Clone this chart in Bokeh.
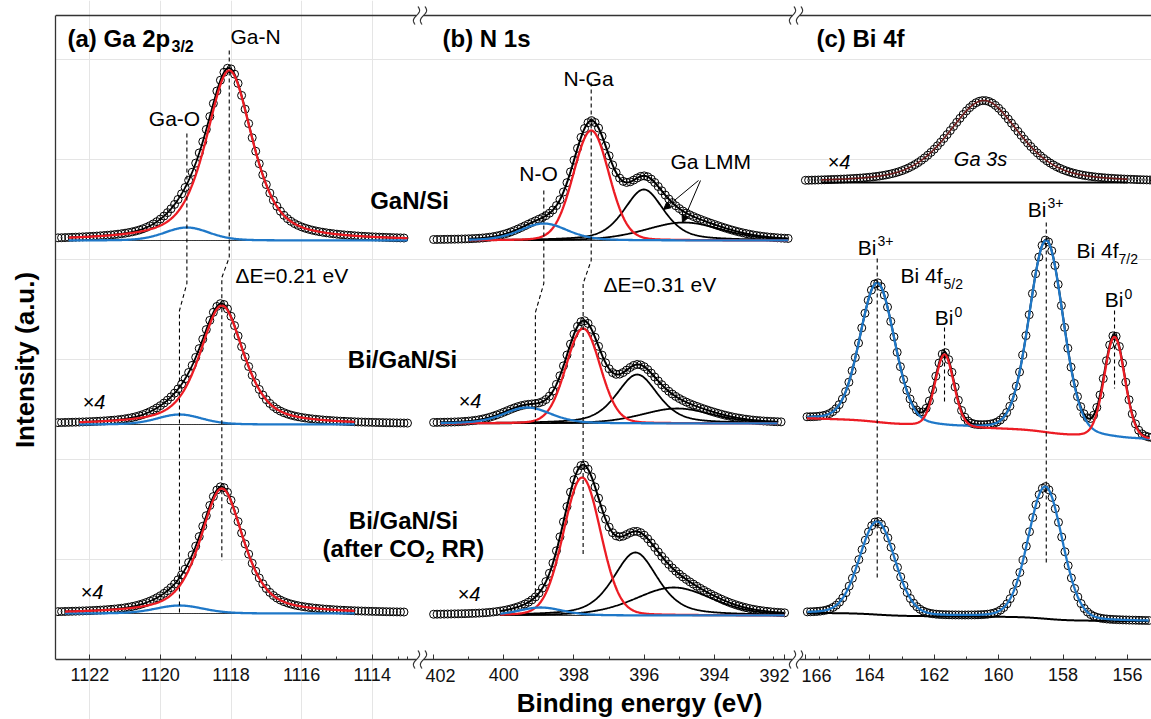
import math
import numpy as np
from bokeh.plotting import figure
from bokeh.models import Range1d, LinearAxis, FixedTicker, Label, Arrow, NormalHead
from bokeh.embed import file_html
from bokeh.resources import INLINE

# ===================== DATA =====================
# intensity in a.u.; each stacked spectrum has its own baseline offset
# (a) Ga 2p3/2 -- [GaN/Si, Bi/GaN/Si, Bi/GaN/Si after CO2RR]
ga_offset   = [419, 235, 46]
ga_GaN_pos  = [1118.05, 1118.26, 1118.26]
ga_GaN_amp  = [170, 119, 125]
ga_GaN_fwhm = [1.56, 1.48, 1.45]
ga_GaO_pos  = [1119.25, 1119.46, 1119.46]
ga_GaO_amp  = [13, 10, 8]
ga_GaO_fwhm = [1.50, 1.50, 1.60]
ga_shape    = [0.60, 0.20]                 # Lorentzian fraction: Ga-N, Ga-O
ga_scan     = [[1122.9, 1113.1], [1122.9, 1113.0], [1122.9, 1113.1]]
ga_fitwin   = [[1122.6, 1113.0], [1122.3, 1114.5], [1122.7, 1114.5]]

# (b) N 1s
n_offset    = [419, 236, 44]
n_NGa_pos   = [397.51, 397.74, 397.77]
n_NGa_amp   = [110, 95, 138]
n_NGa_fwhm  = [1.20, 1.15, 1.25]
n_NO_pos    = [398.86, 399.33, 398.95]
n_NO_amp    = [17, 16, 8]
n_NO_fwhm   = [1.60, 1.60, 1.50]
n_LMM1_pos  = [396.01, 396.20, 396.25]
n_LMM1_amp  = [51, 49, 63]
n_LMM1_fwhm = [1.35, 1.40, 1.50]
n_LMM2_pos  = [394.87, 395.06, 395.16]
n_LMM2_amp  = [18, 15, 28]
n_LMM2_fwhm = [2.60, 2.40, 2.60]
n_shape     = [0.10, 0.30, 0.50, 0.30]     # N-Ga, N-O, LMM1, LMM2
n_scan      = [[402.0, 391.9], [402.0, 392.1], [402.0, 392.0]]
n_fitwin    = [[401.0, 391.9], [401.8, 392.2], [400.1, 392.0]]
n_NO_guide  = [398.86, 399.10]

# (c) Ga 3s of GaN/Si (x4) and Bi 4f
ga3s_offset = 477
ga3s_pos, ga3s_amp, ga3s_fwhm, ga3s_shape = 160.46, 82, 2.64, 0.5
ga3s_scan   = [166.0, 155.2]
ga3s_fitwin = [165.5, 156.0]

bi_names    = ["Bi3+ 4f5/2", "Bi0 4f5/2", "Bi3+ 4f7/2", "Bi0 4f7/2"]
bi_pos      = [163.77, 161.68, 158.52, 156.40]
bi_amp      = [139, 72, 192, 101]
bi_fwhm     = [1.26, 0.69, 1.24, 0.75]
bi_shape    = 0.12
bi_bg       = [219.7, 1.0, 10.9]           # bg at low-BE end, linear slope, Shirley step
bi_scan     = [165.95, 155.25]
bi_fitwin   = [165.95, 155.30]

bia_pos     = [163.77, 158.55]
bia_amp     = [93, 132]
bia_fwhm    = [1.29, 1.25]
bia_bg      = [38.3, 0.25, 5.7]
bia_scan    = [165.94, 155.34]

ticks_a = [1122, 1120, 1118, 1116, 1114]
ticks_b = [402, 400, 398, 396, 394, 392]
ticks_c = [166, 164, 162, 160, 158, 156]

# ===================== helpers =====================
LN2 = math.log(2)
erf = np.vectorize(math.erf)


def pv(E, c, h, w, eta):
    x = (np.asarray(E, dtype=float) - c) / w
    return h * (eta / (1 + 4 * x * x) + (1 - eta) * np.exp(-4 * LN2 * x * x))


def pv_cdf(E, c, h, w, eta):
    E = np.asarray(E, dtype=float)
    aG = (1 - eta) * h * w * math.sqrt(math.pi / (4 * LN2))
    aL = eta * h * math.pi * w / 2
    cg = 0.5 * (1 + erf((E - c) * 2 * math.sqrt(LN2) / w))
    cl = 0.5 + np.arctan(2 * (E - c) / w) / math.pi
    return aG * cg + aL * cl, aG + aL


def shirley(E, peaks, base, slope, step, e_min):
    num = 0.0
    tot = 0.0
    for (c, h, w, eta) in peaks:
        n, t = pv_cdf(E, c, h, w, eta)
        num = num + n
        tot += t
    return base + slope * (np.asarray(E) - e_min) + step * num / tot


def scan(hi, lo, step):
    n = int(round((hi - lo) / step)) + 1
    return hi - step * np.arange(n)


RED, BLUE, DRED, AX = "#ec1c24", "#1f78c8", "#6d1a1a", "#333333"
FONT, FONTB = "Liberation Sans", "Liberation Sans"

# ===================== figure =====================
FL, FR = 55, 1151
WF = FR - FL
p = figure(width=1151, height=719, output_backend="svg", toolbar_location=None,
           x_range=Range1d(1122.972, 1122.972 - WF / 35.3), y_range=Range1d(-60, 659),
           x_axis_location=None, y_axis_location=None,
           min_border_left=FL, min_border_right=0, min_border_top=0, min_border_bottom=0,
           outline_line_color=None, background_fill_color="white", border_fill_color="white")
p.extra_x_ranges = {"b": Range1d(412.772, 412.772 - WF / 35.1),
                    "c": Range1d(189.289, 189.289 - WF / 32.2),
                    "px": Range1d(FL, FR)}
RNG = {"default": p.x_range, "b": p.extra_x_ranges["b"], "c": p.extra_x_ranges["c"]}


def e_at(name, px):
    r = RNG[name]
    return r.start + (px - FL) * (r.end - r.start) / WF


def Y(py):
    return 659 - py


def circles(E, y, rn):
    p.scatter(E, y, marker="circle", size=8, fill_color=None, line_color="black",
              line_width=1, x_range_name=rn)


def ln(E, y, color, w, rn, dash="solid"):
    p.line(E, y, line_color=color, line_width=w, x_range_name=rn, line_dash=dash)


# ---------- (a) Ga 2p3/2 ----------
for i in range(3):
    y0 = ga_offset[i]

    def comps(E):
        return (pv(E, ga_GaN_pos[i], ga_GaN_amp[i], ga_GaN_fwhm[i], ga_shape[0]),
                pv(E, ga_GaO_pos[i], ga_GaO_amp[i], ga_GaO_fwhm[i], ga_shape[1]))
    Ed = scan(*ga_scan[i], 0.1)
    a, b = comps(Ed)
    circles(Ed, y0 + a + b, "default")
    Ef = scan(*ga_fitwin[i], 0.02)
    a, b = comps(Ef)
    ln(Ef, np.full_like(Ef, y0), "black", 1, "default")
    ln(Ef, y0 + a + b, "black", 1.8, "default")
    ln(Ef, y0 + b, BLUE, 2.3, "default")
    ln(Ef, y0 + a, RED, 2.3, "default")

# ---------- (b) N 1s ----------
for i in range(3):
    y0 = n_offset[i]

    def comps(E):
        return (pv(E, n_NGa_pos[i], n_NGa_amp[i], n_NGa_fwhm[i], n_shape[0]),
                pv(E, n_NO_pos[i], n_NO_amp[i], n_NO_fwhm[i], n_shape[1]),
                pv(E, n_LMM1_pos[i], n_LMM1_amp[i], n_LMM1_fwhm[i], n_shape[2]),
                pv(E, n_LMM2_pos[i], n_LMM2_amp[i], n_LMM2_fwhm[i], n_shape[3]))
    Ed = scan(*n_scan[i], 0.1)
    c1, c2, c3, c4 = comps(Ed)
    circles(Ed, y0 + c1 + c2 + c3 + c4, "b")
    Ef = scan(*n_fitwin[i], 0.02)
    c1, c2, c3, c4 = comps(Ef)
    ln(Ef, np.full_like(Ef, y0), "black", 1, "b")
    ln(Ef, y0 + c3, "black", 1.8, "b")
    ln(Ef, y0 + c4, "black", 1.8, "b")
    ln(Ef, y0 + c1 + c2 + c3 + c4, "black", 2.0, "b")
    ln(Ef, y0 + c1, RED, 2.3, "b")
    ln(Ef, y0 + c2, BLUE, 2.3, "b")

# ---------- (c) Ga 3s ----------
Ed = scan(*ga3s_scan, 0.1)
circles(Ed, ga3s_offset + pv(Ed, ga3s_pos, ga3s_amp, ga3s_fwhm, ga3s_shape), "c")
Ef = scan(*ga3s_fitwin, 0.02)
ln(Ef, np.full_like(Ef, ga3s_offset), "black", 2, "c")
ln(Ef, ga3s_offset + pv(Ef, ga3s_pos, ga3s_amp, ga3s_fwhm, ga3s_shape), DRED, 1.6, "c")

# ---------- (c) Bi 4f, Bi/GaN/Si ----------
bi_peaks = [(bi_pos[k], bi_amp[k], bi_fwhm[k], bi_shape) for k in range(4)]


def bi_parts(E):
    bg = shirley(E, bi_peaks, bi_bg[0], bi_bg[1], bi_bg[2], bi_fitwin[1])
    pk = [pv(E, *pp) for pp in bi_peaks]
    return bg, pk


Ed = scan(*bi_scan, 0.1)
bg, pk = bi_parts(Ed)
circles(Ed, bg + sum(pk), "c")
Ef = scan(*bi_fitwin, 0.02)
bg, pk = bi_parts(Ef)
ln(Ef, bg + sum(pk), "black", 2, "c")
ln(Ef, bg + pk[0] + pk[2], BLUE, 2.3, "c")
ln(Ef, bg + pk[1] + pk[3], RED, 2.3, "c")

# ---------- (c) Bi 4f, after CO2RR ----------
bia_peaks = [(bia_pos[k], bia_amp[k], bia_fwhm[k], bi_shape) for k in range(2)]


def bia_parts(E):
    bg = shirley(E, bia_peaks, bia_bg[0], bia_bg[1], bia_bg[2], bia_scan[1])
    return bg, sum(pv(E, *pp) for pp in bia_peaks)


Ed = scan(*bia_scan, 0.1)
bg, pk = bia_parts(Ed)
circles(Ed, bg + pk, "c")
Ef = scan(*bia_scan, 0.02)
bg, pk = bia_parts(Ef)
ln(Ef, bg, "black", 2, "c")
ln(Ef, bg + pk, BLUE, 2.3, "c")

# ---------- dashed guide lines ----------
DASH = "4 3"
ln([ga_GaN_pos[0], ga_GaN_pos[0], ga_GaN_pos[1], ga_GaN_pos[1]], [Y(50), Y(257), Y(277), Y(560)], "black", 1.1, "default", DASH)
ln([ga_GaO_pos[0], ga_GaO_pos[0], ga_GaO_pos[1], ga_GaO_pos[1]], [Y(133), Y(283), Y(310), Y(612)], "black", 1.1, "default", DASH)
ln([n_NGa_pos[0], n_NGa_pos[0], n_NGa_pos[1], n_NGa_pos[1]], [Y(82), Y(260), Y(283), Y(555)], "black", 1.1, "b", DASH)
ln([n_NO_guide[0], n_NO_guide[0], n_NO_guide[1], n_NO_guide[1]], [Y(190), Y(283), Y(312), Y(597)], "black", 1.1, "b", DASH)
ln([bi_pos[0], bi_pos[0]], [Y(258), Y(578)], "black", 1.1, "c", DASH)
ln([bi_pos[2], bi_pos[2]], [Y(222), Y(562)], "black", 1.1, "c", DASH)
ln([bi_pos[1], bi_pos[1]], [Y(327), Y(402)], "black", 1.1, "c", DASH)
ln([bi_pos[3], bi_pos[3]], [Y(310), Y(388)], "black", 1.1, "c", DASH)

# ---------- axes ----------
yax = LinearAxis(ticker=FixedTicker(ticks=[]), bounds=(0, 644), axis_label="Intensity (a.u.)",
                 axis_label_text_font=FONTB, axis_label_text_font_size="26px",
                 axis_label_text_font_style="bold", axis_label_text_color="black",
                 axis_label_standoff=16, major_label_standoff=0,
                 major_tick_in=0, major_tick_out=0, minor_tick_in=0, minor_tick_out=0,
                 axis_line_color=AX, axis_line_width=1.3)
p.add_layout(yax, "left")


def lab(text, px, py, size=21, style="normal", align="left", font=FONT, color="black"):
    # py = wanted baseline (page pixels); Label anchors slightly lower, so lift by ~1/3 em
    p.add_layout(Label(x=px, y=Y(py) + 0.33 * size, x_range_name="px", text=text, text_font=font,
                       text_font_size=f"{size}px", text_font_style=style,
                       text_align=align, text_baseline="alphabetic", text_color=color))


# tick labels next to the axis breaks are set slightly inward (as in the reference)
edge_labels = {"b": {402: 440, 392: 774}, "c": {166: 816}}


def xaxis(name, ticks, px0, px1):
    lo, hi = sorted([e_at(name, px0), e_at(name, px1)])
    minor = [t - 1 for t in ticks] + [ticks[0] + 1]
    shifted = edge_labels.get(name, {})
    ax = LinearAxis(x_range_name=name, fixed_location=0, bounds=(lo, hi),
                    ticker=FixedTicker(ticks=ticks, minor_ticks=minor),
                    major_label_overrides={t: "" for t in shifted},
                    major_tick_in=5, major_tick_out=0, minor_tick_in=3, minor_tick_out=0,
                    major_label_standoff=8, major_label_text_font=FONT,
                    major_label_text_font_size="18px", major_label_text_color="#111111",
                    axis_line_color=AX, axis_line_width=1.3,
                    major_tick_line_color=AX, minor_tick_line_color=AX)
    p.add_layout(ax, "below")
    for t, xpx in shifted.items():
        lab(str(t), xpx, 681, 18, align="center", color="#111111")


xaxis("default", ticks_a, 55, 416)
xaxis("b", ticks_b, 423, 792)
xaxis("c", ticks_c, 799, 1151)

# top frame line with breaks
p.segment(x0=[55, 423, 799], y0=[Y(15)] * 3, x1=[416, 792, 1151], y1=[Y(15)] * 3,
          x_range_name="px", line_color=AX, line_width=1.3)

# axis-break squiggles
sx, sy = [], []
s = np.linspace(0, 1, 30)
for xc in (416, 423, 792, 799):
    for yc in (Y(15), Y(659)):
        sx.append(list(xc + 2.3 * np.sin(2 * np.pi * s) + 3.0 * (0.5 - s)))
        sy.append(list(yc + 9 - 18 * s))
p.multi_line(sx, sy, x_range_name="px", line_color=AX, line_width=1.2)

# ---------- text ----------
lab("(a) Ga 2p", 67, 46, 24, "bold", font=FONTB)
lab("3/2", 171, 51, 16, "bold", font=FONTB)
lab("(b) N 1s", 442, 46, 24, "bold", font=FONTB)
lab("(c) Bi 4f", 816, 46, 24, "bold", font=FONTB)

lab("GaN/Si", 409, 208, 24, "bold", "center", FONTB)
lab("Bi/GaN/Si", 402, 367, 24, "bold", "center", FONTB)
lab("Bi/GaN/Si", 403, 528, 24, "bold", "center", FONTB)
lab("(after CO", 322, 556, 24, "bold", font=FONTB)
lab("2", 425, 562, 16, "bold", font=FONTB)
lab("RR)", 441, 556, 24, "bold", font=FONTB)

lab("Ga-N", 230, 43)
lab("Ga-O", 174, 125, align="center")
lab("\u0394E=0.21 eV", 235, 282)
lab("N-Ga", 588, 85, align="center")
lab("N-O", 538, 180, align="center")
lab("Ga LMM", 670, 168)
lab("\u0394E=0.31 eV", 603, 291)

lab("Bi 4f", 900, 282)
lab("5/2", 943, 288, 14)
lab("Bi 4f", 1076, 257)
lab("7/2", 1118, 263, 14)
lab("Bi", 876, 254, align="right")
lab("3+", 877, 245, 14)
lab("Bi", 1046, 216, align="right")
lab("3+", 1047, 207, 14)
lab("Bi", 953, 324, align="right")
lab("0", 954, 316, 14)
lab("Bi", 1123, 306, align="right")
lab("0", 1124, 298, 14)

lab("Ga 3s", 980, 165, 20, "italic", "center")
for (x4, y4) in [(827, 168), (82, 408), (80, 598), (458, 407), (457, 600)]:
    lab("\u00d74", x4, y4, 20, "italic")

lab("Binding energy (eV)", 639, 711, 26, "bold", "center", FONTB)

for (x0, y0p, x1, y1p) in [(698, 180, 663, 209), (700, 180, 682, 222)]:
    p.add_layout(Arrow(end=NormalHead(size=7, fill_color="black", line_color="black", line_width=1),
                       x_start=x0, y_start=Y(y0p), x_end=x1, y_end=Y(y1p),
                       x_range_name="px", line_width=1, line_color="black"))

open("out.html", "w").write(file_html(p, INLINE, "XPS"))
